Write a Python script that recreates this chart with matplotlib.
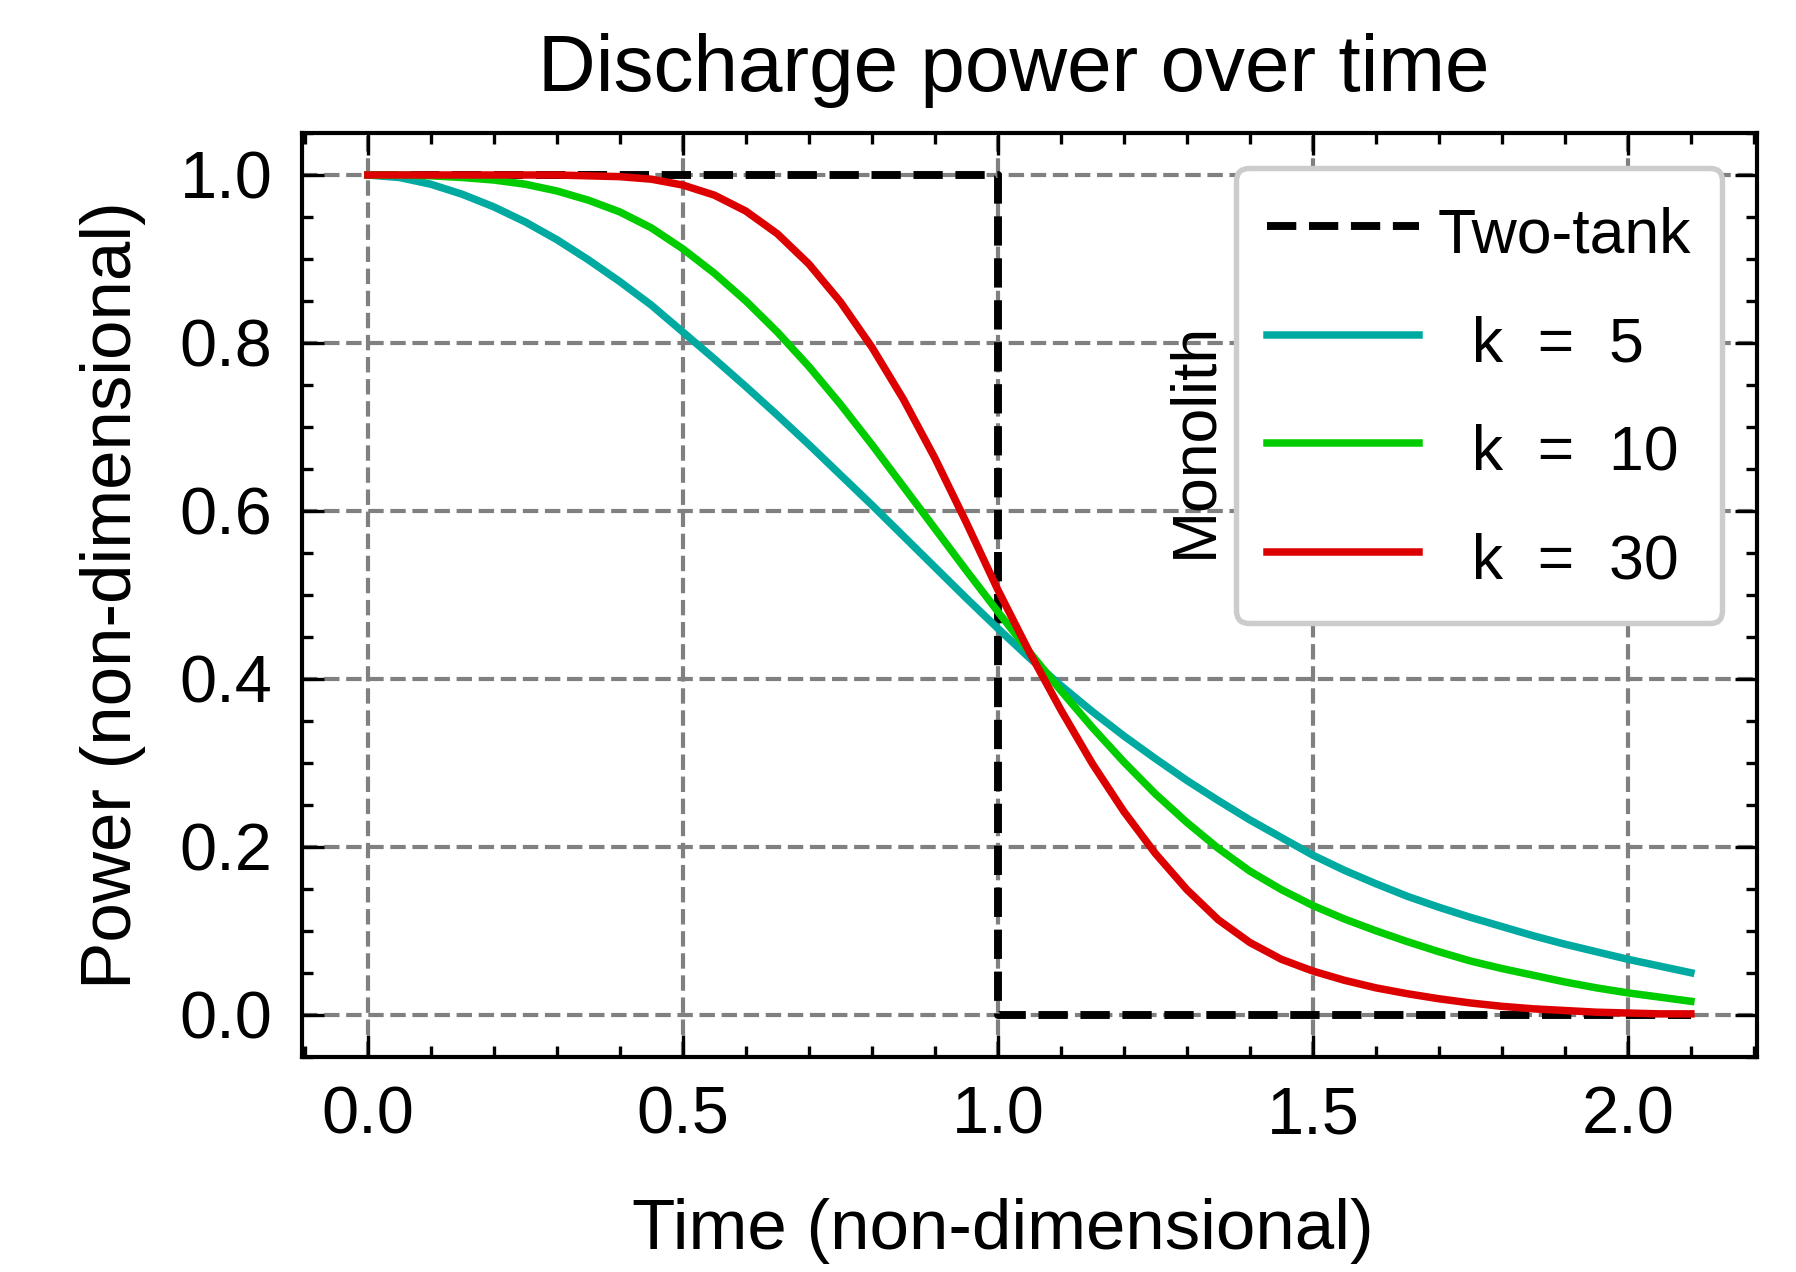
import matplotlib
matplotlib.use("Agg")
import matplotlib.pyplot as plt
from matplotlib.ticker import MultipleLocator, FormatStrFormatter

plt.rcParams['font.family'] = ['Liberation Sans', 'DejaVu Sans']

# ---- data ----
time = [0.00, 0.05, 0.10, 0.15, 0.20, 0.25, 0.30, 0.35, 0.40, 0.45,
        0.50, 0.55, 0.60, 0.65, 0.70, 0.75, 0.80, 0.85, 0.90, 0.95,
        1.00, 1.05, 1.10, 1.15, 1.20, 1.25, 1.30, 1.35, 1.40, 1.45,
        1.50, 1.55, 1.60, 1.65, 1.70, 1.75, 1.80, 1.85, 1.90, 1.95,
        2.00, 2.05, 2.10]

power_k5 = [1.000, 0.997, 0.989, 0.977, 0.962, 0.944, 0.923, 0.899, 0.873, 0.845,
            0.813, 0.781, 0.748, 0.714, 0.679, 0.643, 0.607, 0.570, 0.533, 0.496,
            0.460, 0.425, 0.392, 0.361, 0.332, 0.305, 0.279, 0.255, 0.232, 0.211,
            0.190, 0.172, 0.156, 0.141, 0.128, 0.116, 0.105, 0.094, 0.084, 0.075,
            0.066, 0.058, 0.050]

power_k10 = [1.000, 1.000, 0.999, 0.997, 0.994, 0.989, 0.981, 0.970, 0.956, 0.937,
             0.912, 0.883, 0.850, 0.813, 0.772, 0.727, 0.679, 0.629, 0.579, 0.529,
             0.480, 0.432, 0.386, 0.342, 0.301, 0.263, 0.229, 0.198, 0.171, 0.149,
             0.130, 0.114, 0.100, 0.087, 0.075, 0.064, 0.055, 0.047, 0.039, 0.032,
             0.026, 0.021, 0.016]

power_k30 = [1.000, 1.000, 1.000, 1.000, 1.000, 1.000, 1.000, 0.999, 0.998, 0.995,
             0.988, 0.976, 0.957, 0.930, 0.894, 0.849, 0.795, 0.733, 0.663, 0.586,
             0.506, 0.432, 0.363, 0.299, 0.242, 0.192, 0.149, 0.113, 0.086, 0.066,
             0.052, 0.041, 0.032, 0.025, 0.019, 0.014, 0.010, 0.007, 0.005, 0.003,
             0.002, 0.001, 0.001]

two_tank_time = [0.0, 1.0, 1.0, 2.1]
two_tank_power = [1.0, 1.0, 0.0, 0.0]

labels = ['Two-tank', '  k  =  5', '  k  =  10', '  k  =  30']
colors = ['#000000', '#00AAA0', '#00CC00', '#DD0000']

# ---- figure ----
W, H = 1796, 1272
fig = plt.figure(figsize=(W / 300, H / 300), dpi=300)
ax = fig.add_axes([301.7 / W, 1 - 1056.7 / H, (1757 - 301.7) / W, (1056.7 - 133) / H])

ax.plot(two_tank_time, two_tank_power, ls='--', lw=1.9, color=colors[0], label=labels[0])
ax.plot(time, power_k5, lw=1.8, color=colors[1], label=labels[1])
ax.plot(time, power_k10, lw=1.8, color=colors[2], label=labels[2])
ax.plot(time, power_k30, lw=1.8, color=colors[3], label=labels[3])

ax.set_title('Discharge power over time', fontsize=19.2, pad=10, x=0.489)
ax.set_xlabel('Time (non-dimensional)', fontsize=17, labelpad=12, x=0.482)
ax.set_ylabel('Power (non-dimensional)', fontsize=17, labelpad=8)

ax.text(1.312, 0.684, 'Monolith', rotation=90, ha='center', va='center', fontsize=15)

ax.xaxis.set_major_locator(MultipleLocator(0.5))
ax.xaxis.set_minor_locator(MultipleLocator(0.1))
ax.yaxis.set_major_locator(MultipleLocator(0.2))
ax.yaxis.set_minor_locator(MultipleLocator(0.05))
ax.xaxis.set_major_formatter(FormatStrFormatter('%.1f'))
ax.yaxis.set_major_formatter(FormatStrFormatter('%.1f'))

ax.tick_params(which='both', direction='in', top=True, right=True, width=0.8)
ax.tick_params(which='major', length=5.2, labelsize=16)
ax.tick_params(which='minor', length=2.6)
ax.tick_params(axis='x', which='major', pad=7)
ax.tick_params(axis='y', which='major', pad=7)
for sp in ax.spines.values():
    sp.set_linewidth(1.0)

ax.grid(True, which='major', ls='--', lw=1.0, color='#808080')

leg = ax.legend(loc='upper right', bbox_to_anchor=(0.976, 0.962), borderaxespad=0,
                fontsize=15, handlelength=2.42, handleheight=1.2, handletextpad=0.3,
                labelspacing=0.68, borderpad=0.5, framealpha=1,
                edgecolor='#cccccc', fancybox=True)
leg.get_frame().set_linewidth(1.3)

fig.savefig('out.png', dpi=300)
